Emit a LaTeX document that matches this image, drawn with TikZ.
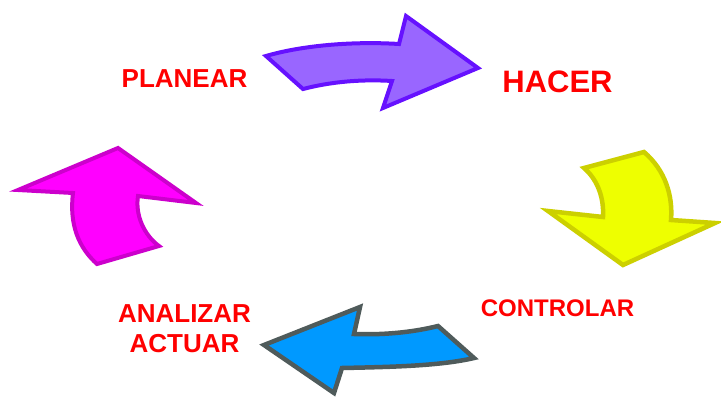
\documentclass[tikz,border=0pt]{standalone}
\usepackage{fontspec}
\setmainfont{Liberation Sans}
\definecolor{purpfill}{HTML}{9966FF}
\definecolor{purpline}{HTML}{6611FF}
\definecolor{yelfill}{HTML}{EEFF00}
\definecolor{yelline}{HTML}{CCD000}
\definecolor{bluefill}{HTML}{0099FF}
\definecolor{blueline}{HTML}{4F5B5B}
\definecolor{magfill}{HTML}{FF00FF}
\definecolor{magline}{HTML}{CC00CC}
\tikzset{
  lbl/.style={text=red, font=\bfseries, inner sep=0pt},
  arrowshape/.style={line width=4pt, line join=miter},
}
\begin{document}
\begin{tikzpicture}[x=1pt,y=-1pt]
\useasboundingbox (0,0) rectangle (721,399);
% labels
\node[lbl, font=\fontsize{26}{30}\selectfont\bfseries] (planear) at (184.5,78.7) {PLANEAR};
\node[lbl, font=\fontsize{31}{36}\selectfont\bfseries] (hacer) at (557.5,81.7) {HACER};
\node[lbl, font=\fontsize{24}{28}\selectfont\bfseries] (controlar) at (557.5,308.7) {CONTROLAR};
\node[lbl, font=\fontsize{26}{30}\selectfont\bfseries] (analizar) at (184.5,313.3) {ANALIZAR};
\node[lbl, font=\fontsize{26}{30}\selectfont\bfseries] (actuar) at (184.5,343.3) {ACTUAR};
% purple arrow
\draw[arrowshape, draw=purpline, fill=purpfill]
  (266,56) .. controls (300,46) and (350,41) .. (399,44) -- (406,16) -- (478,68) -- (383,108)
  -- (392,81) .. controls (360,79) and (330,82) .. (303,89) -- cycle;
% yellow arrow
\draw[arrowshape, line width=4.5pt, draw=yelline, fill=yelfill]
  (644,152) -- (584,168) .. controls (599,181) and (604,200) .. (603,217) -- (548,211)
  -- (623,265) -- (715,223) -- (671,220) .. controls (673,195) and (665,170) .. (644,152) -- cycle;
% blue arrow
\draw[arrowshape, line width=4.5pt, draw=blueline, fill=bluefill]
  (438,326) .. controls (410,333) and (380,335) .. (354,334) -- (360,307) -- (264,345)
  -- (334,393) -- (342,368) .. controls (390,367) and (440,366) .. (474,358) -- cycle;
% magenta arrow
\draw[arrowshape, draw=magline, fill=magfill]
  (118,148) -- (196,203) -- (138,196) .. controls (135,215) and (144,235) .. (159,246)
  -- (97,264) .. controls (79,248) and (69,225) .. (73,193) -- (18,190) -- cycle;
\end{tikzpicture}
\end{document}
